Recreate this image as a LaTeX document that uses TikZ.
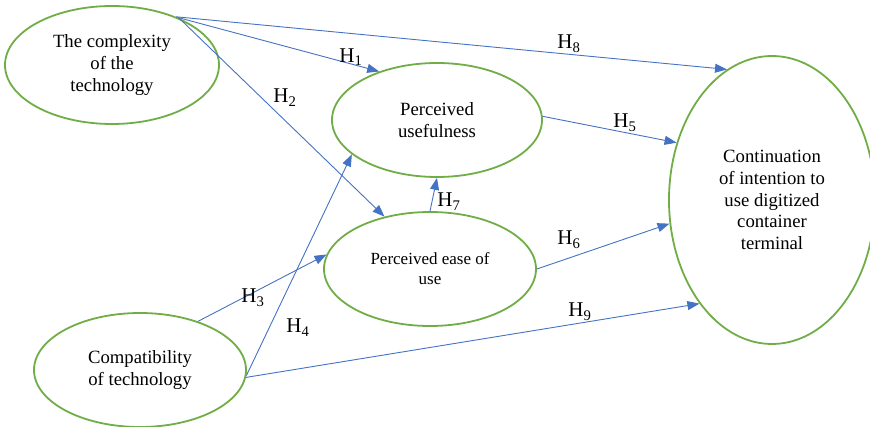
\documentclass[tikz,border=0pt]{standalone}
\usepackage{fontspec}
\setmainfont{Liberation Serif}
\usetikzlibrary{shapes.geometric,arrows.meta}
\definecolor{ovalgreen}{HTML}{70AD47}
\definecolor{arrowblue}{HTML}{4472C4}
\newcommand{\hyp}[1]{H\textsubscript{#1}}

\begin{document}
\begin{tikzpicture}[
    x=1pt, y=-1pt,
    construct/.style={ellipse, draw=ovalgreen, line width=1.8pt, inner sep=0pt, align=center, font=\fontsize{18.7}{21.7}\selectfont},
    arrow/.style={-{Triangle[length=12pt,width=9pt]}, draw=arrowblue, line width=0.9pt},
    hlabel/.style={anchor=base, inner sep=0pt, font=\fontsize{21}{24}\selectfont}
]
\useasboundingbox (0,0) rectangle (870,427);

% Constructs
\node[construct, minimum width=214pt, minimum height=118pt] (cx) at (112,65) {The complexity\\of the\\technology};
\node[construct, minimum width=212pt, minimum height=114pt] (ct) at (140,370) {Compatibility\\of technology};
\node[construct, minimum width=210pt, minimum height=114pt] (uf) at (437,120) {Perceived\\usefulness};
\node[construct, minimum width=212pt, minimum height=114pt, font=\fontsize{17}{20}\selectfont] (eu) at (430,269) {Perceived ease of\\use};
\node[construct, minimum width=206pt, minimum height=288pt] (ci) at (772,200) {Continuation\\of intention to\\use digitized\\container\\terminal};

% Paths
\draw[arrow] (cx.36) -- (uf.140);
\draw[arrow] (cx.35) -- (eu.131);
\draw[arrow] (cx.37) -- (ci.109);
\draw[arrow] (ct.40) -- (eu.172);
\draw[arrow] (ct.-3) -- (uf.202);
\draw[arrow] (uf.2) -- (ci.149);
\draw[arrow] (eu.0) -- (ci.193);
\draw[arrow] (eu.north) -- (uf.south);
\draw[arrow] (ct.-4) -- (ci.235);

% Hypotheses
\node[hlabel] (h1) at (351,62.7) {\hyp{1}};
\node[hlabel] (h2) at (285,103) {\hyp{2}};
\node[hlabel] (h3) at (253,303) {\hyp{3}};
\node[hlabel] (h4) at (298,333) {\hyp{4}};
\node[hlabel] (h5) at (625,128) {\hyp{5}};
\node[hlabel] (h6) at (569,245) {\hyp{6}};
\node[hlabel] (h7) at (449,207) {\hyp{7}};
\node[hlabel] (h8) at (569,49) {\hyp{8}};
\node[hlabel] (h9) at (580,317) {\hyp{9}};

\end{tikzpicture}
\end{document}
